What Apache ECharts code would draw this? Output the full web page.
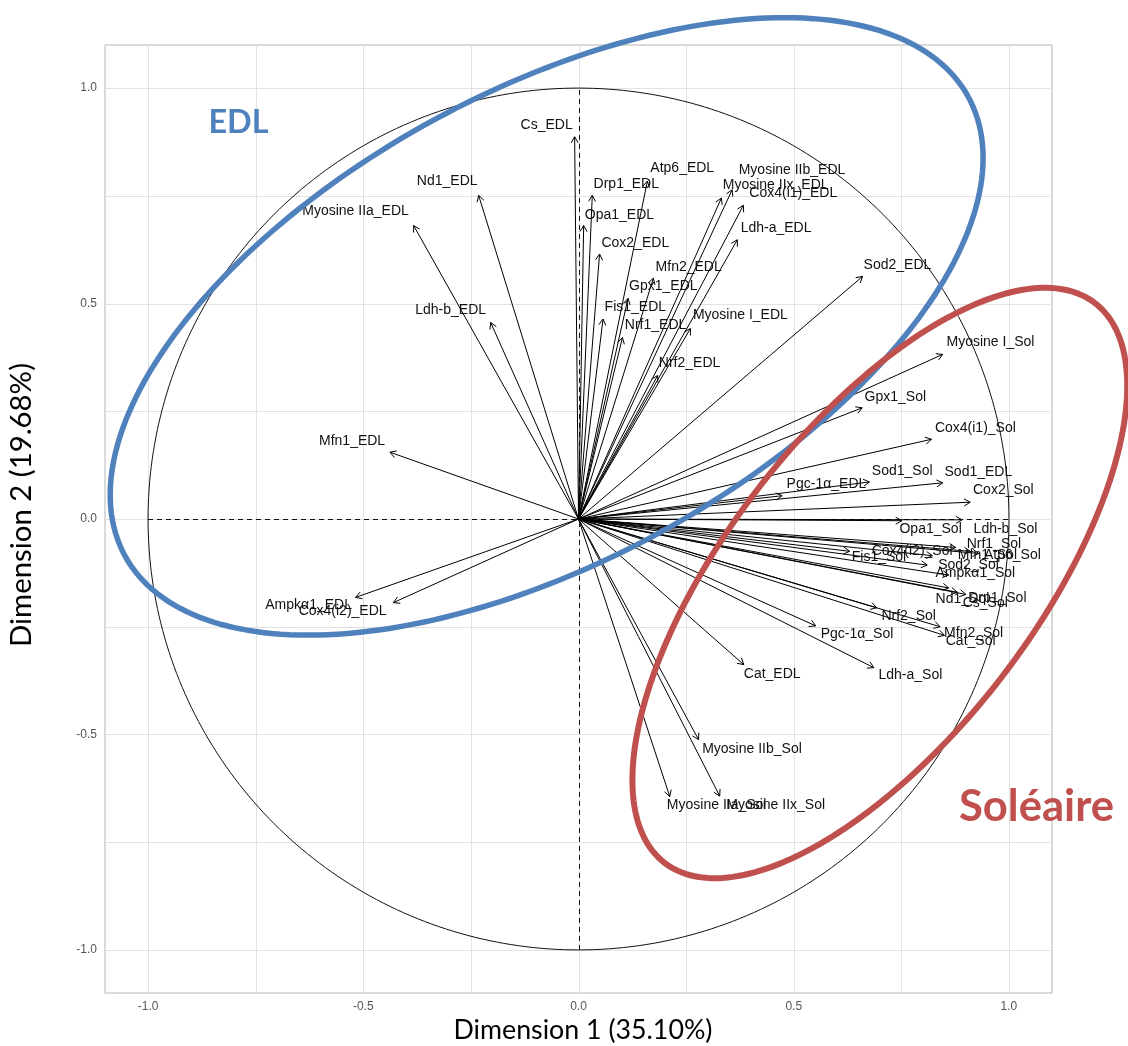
<!DOCTYPE html>
<html><head><meta charset="utf-8">
<script src="https://cdn.jsdelivr.net/npm/echarts@6/dist/echarts.min.js"></script>
<style>html,body{margin:0;padding:0;background:#fff}#c{width:1128px;height:1046px}</style>
</head><body><div id="c"></div><script>
// ---- data ----
const varNames = [
 'Cs_EDL','Nd1_EDL','Atp6_EDL','Cox2_EDL','Cox4(i1)_EDL','Cox4(i2)_EDL','Drp1_EDL','Fis1_EDL','Opa1_EDL','Mfn1_EDL',
 'Mfn2_EDL','Nrf1_EDL','Nrf2_EDL','Pgc-1α_EDL','Gpx1_EDL','Sod1_EDL','Sod2_EDL','Cat_EDL','Ldh-a_EDL','Ldh-b_EDL',
 'Ampkα1_EDL','Myosine I_EDL','Myosine IIa_EDL','Myosine IIb_EDL','Myosine IIx_EDL',
 'Cs_Sol','Nd1_Sol','Atp6_Sol','Cox2_Sol','Cox4(i1)_Sol','Cox4(i2)_Sol','Drp1_Sol','Fis1_Sol','Opa1_Sol','Mfn1_Sol',
 'Mfn2_Sol','Nrf1_Sol','Nrf2_Sol','Pgc-1α_Sol','Gpx1_Sol','Sod1_Sol','Sod2_Sol','Cat_Sol','Ldh-a_Sol','Ldh-b_Sol',
 'Ampkα1_Sol','Myosine I_Sol','Myosine IIa_Sol','Myosine IIb_Sol','Myosine IIx_Sol'
];
const dim1 = [
 -0.009,-0.232,0.160,0.049,0.383,-0.430,0.032,0.057,0.012,-0.438,
 0.174,0.102,0.184,0.473,0.115,0.846,0.660,0.384,0.369,-0.204,
 -0.518,0.260,-0.383,0.357,0.332,
 0.880,0.860,0.930,0.910,0.820,0.822,0.900,0.630,0.751,0.910,
 0.840,0.876,0.693,0.551,0.659,0.676,0.810,0.850,0.686,0.891,
 0.860,0.846,0.212,0.279,0.328
];
const dim2 = [
 0.887,0.751,0.784,0.615,0.728,-0.194,0.751,0.464,0.681,0.155,
 0.559,0.421,0.333,0.054,0.512,0.084,0.563,-0.338,0.648,0.456,
 -0.182,0.442,0.681,0.764,0.745,
 -0.170,-0.160,-0.080,0.039,0.185,-0.085,-0.175,-0.075,-0.004,-0.075,
 -0.250,-0.066,-0.206,-0.248,0.258,0.086,-0.107,-0.270,-0.345,-0.002,
 -0.130,0.382,-0.644,-0.512,-0.643
];
// label anchor (text centre) in dimension units, as placed in the picture
const labelX = [
 -0.074,-0.305,0.241,0.132,0.499,-0.548,0.111,0.132,0.095,-0.526,
 0.256,0.179,0.258,0.576,0.197,0.929,0.741,0.450,0.459,-0.297,
 -0.627,0.376,-0.518,0.496,0.458,
 0.945,0.892,1.008,0.987,0.922,0.775,0.973,0.698,0.818,0.950,
 0.918,0.965,0.767,0.647,0.736,0.752,0.906,0.911,0.771,0.992,
 0.922,0.957,0.321,0.403,0.458
];
const labelY = [
 0.913,0.784,0.815,0.640,0.757,-0.214,0.778,0.491,0.706,0.181,
 0.584,0.450,0.361,0.081,0.540,0.109,0.589,-0.361,0.675,0.485,
 -0.200,0.473,0.714,0.809,0.774,
 -0.196,-0.186,-0.084,0.066,0.210,-0.074,-0.184,-0.089,-0.023,-0.084,
 -0.264,-0.058,-0.225,-0.268,0.283,0.112,-0.106,-0.283,-0.363,-0.023,
 -0.126,0.410,-0.664,-0.534,-0.664
];
const tickValues = [-1.0,-0.5,0.0,0.5,1.0];
const minorValues = [-0.75,-0.25,0.25,0.75];
const axisRange = [-1.1, 1.1];
const xTitle = 'Dimension 1 (35.10%)';
const yTitle = 'Dimension 2 (19.68%)';
// hand-drawn group ellipses (centre x, centre y, semi-axis a, semi-axis b, angle in degrees)
const groupNames = ['EDL','Soléaire'];
const groupEllipses = [[-0.074,0.447,1.115,0.546,28.5],[0.700,-0.1485,0.8196,0.3576,52.4]];
const groupTextPos = [[-0.790,0.920],[1.064,-0.668]];

// ---- styles ----
const BLUE = '#4F81BD', RED = '#C0504D';
const groupColors = [BLUE, RED];
const cvs = document.createElement('canvas').getContext('2d');
function fit(text, font, target){ cvs.font = '100px ' + font; return 100*target/cvs.measureText(text).width; }
const titleFont = 'Lato';
const xTitleSize = fit(xTitle, titleFont, 259);
const yTitleSize = fit(yTitle, titleFont, 284);
const groupSizes = [fit('EDL','bold Lato',63), fit('Soléaire','bold Lato',143)];

const chart = echarts.init(document.getElementById('c'), null, {renderer:'canvas'});
const fmt = v => (Math.abs(v) < 1e-9 ? '0.0' : v.toFixed(1));
const axisCommon = {
  type:'value', min:axisRange[0], max:axisRange[1],
  splitLine:{show:false}, axisTick:{show:false}, axisLine:{show:false},
  axisLabel:{customValues:tickValues, formatter:fmt, color:'#555555', fontSize:12, fontFamily:'Liberation Sans', margin:8}
};
const gridVals = minorValues.concat(tickValues);
function crisp(v){ return Math.round(v) + 0.5; }
const opt = {
  animation:false,
  backgroundColor:'#fff',
  grid:{left:105, right:76, top:45, bottom:53, show:true, borderColor:'#b5b5b5', borderWidth:1, backgroundColor:'transparent'},
  xAxis:axisCommon,
  yAxis:Object.assign({}, axisCommon),
  series:[
    { // vertical grid lines
      type:'custom', z:1, silent:true, data:gridVals.map(v=>[v,0]),
      renderItem:(p,api)=>{ const a=api.coord([api.value(0),axisRange[0]]), b=api.coord([api.value(0),axisRange[1]]);
        const x=crisp(a[0]); return {type:'line', shape:{x1:x,y1:a[1],x2:x,y2:b[1]}, style:{stroke:'#e2e2e2',lineWidth:1}}; }
    },
    { // horizontal grid lines
      type:'custom', z:1, silent:true, data:gridVals.map(v=>[0,v]),
      renderItem:(p,api)=>{ const a=api.coord([axisRange[0],api.value(1)]), b=api.coord([axisRange[1],api.value(1)]);
        const y=crisp(a[1]); return {type:'line', shape:{x1:a[0],y1:y,x2:b[0],y2:y}, style:{stroke:'#e2e2e2',lineWidth:1}}; }
    },
    { // correlation circle and dashed axes
      type:'custom', z:2, silent:true, data:[[0,0]],
      renderItem:(p,api)=>{
        const pts=[]; for(let k=0;k<=360;k++){ const t=k*Math.PI/180; pts.push(api.coord([Math.cos(t),Math.sin(t)])); }
        const h1=api.coord([-1,0]), h2=api.coord([1,0]), v1=api.coord([0,-1]), v2=api.coord([0,1]);
        return {type:'group', children:[
          {type:'polyline', shape:{points:pts}, style:{stroke:'#111',lineWidth:1,fill:null}},
          {type:'line', shape:{x1:h1[0],y1:crisp(h1[1]),x2:h2[0],y2:crisp(h2[1])}, style:{stroke:'#111',lineWidth:1,lineDash:[5,4]}},
          {type:'line', shape:{x1:crisp(v1[0]),y1:v1[1],x2:crisp(v2[0]),y2:v2[1]}, style:{stroke:'#111',lineWidth:1,lineDash:[5,4]}}
        ]};
      }
    },
    { // arrows
      type:'custom', z:3, silent:true, data:dim1.map((x,i)=>[x,dim2[i]]),
      renderItem:(p,api)=>{
        const o=api.coord([0,0]), t=api.coord([api.value(0),api.value(1)]);
        const ang=Math.atan2(t[1]-o[1], t[0]-o[0]), L=7, s=Math.PI/6;
        const h1=[t[0]-L*Math.cos(ang-s), t[1]-L*Math.sin(ang-s)], h2=[t[0]-L*Math.cos(ang+s), t[1]-L*Math.sin(ang+s)];
        return {type:'group', children:[
          {type:'line', shape:{x1:o[0],y1:o[1],x2:t[0],y2:t[1]}, style:{stroke:'#000',lineWidth:1}},
          {type:'polyline', shape:{points:[h1,t,h2]}, style:{stroke:'#000',lineWidth:1,fill:null}}
        ]};
      }
    },
    { // variable labels
      type:'custom', z:4, silent:true, data:labelX.map((x,i)=>[x,labelY[i],i]),
      renderItem:(p,api)=>{ const c=api.coord([api.value(0),api.value(1)]);
        return {type:'text', x:c[0], y:c[1], style:{text:varNames[api.value(2)], fill:'#111', fontSize:14, fontFamily:'Liberation Sans', align:'center', verticalAlign:'middle'}}; }
    },
    { // hand-drawn group ellipses
      type:'custom', z:5, silent:true, clip:false, data:groupEllipses.map((e,i)=>[e[0],e[1],i]),
      renderItem:(p,api)=>{ const i=api.value(2), e=groupEllipses[i], th=e[4]*Math.PI/180; const pts=[];
        for(let k=0;k<=240;k++){ const t=k*2*Math.PI/240, ex=e[2]*Math.cos(t), ey=e[3]*Math.sin(t);
          pts.push(api.coord([e[0]+ex*Math.cos(th)-ey*Math.sin(th), e[1]+ex*Math.sin(th)+ey*Math.cos(th)])); }
        return {type:'polyline', shape:{points:pts}, style:{stroke:groupColors[i], lineWidth:i===0?5.5:6, fill:null}}; }
    },
    { // group names
      type:'custom', z:6, silent:true, clip:false, data:groupTextPos.map((g,i)=>[g[0],g[1],i]),
      renderItem:(p,api)=>{ const i=api.value(2), c=api.coord([api.value(0),api.value(1)]);
        return {type:'text', x:c[0], y:c[1], style:{text:groupNames[i], fill:groupColors[i], fontSize:groupSizes[i], fontWeight:'bold', fontFamily:'Lato', align:'center', verticalAlign:'middle'}}; }
    }
  ],
  graphic:[
    {type:'text', x:583, y:1030, style:{text:xTitle, fontSize:xTitleSize, fontFamily:titleFont, fill:'#000', align:'center', verticalAlign:'middle'}},
    {type:'text', x:22, y:505, rotation:Math.PI/2, style:{text:yTitle, fontSize:yTitleSize, fontFamily:titleFont, fill:'#000', align:'center', verticalAlign:'middle'}}
  ]
};
chart.setOption(opt);
</script></body></html>
